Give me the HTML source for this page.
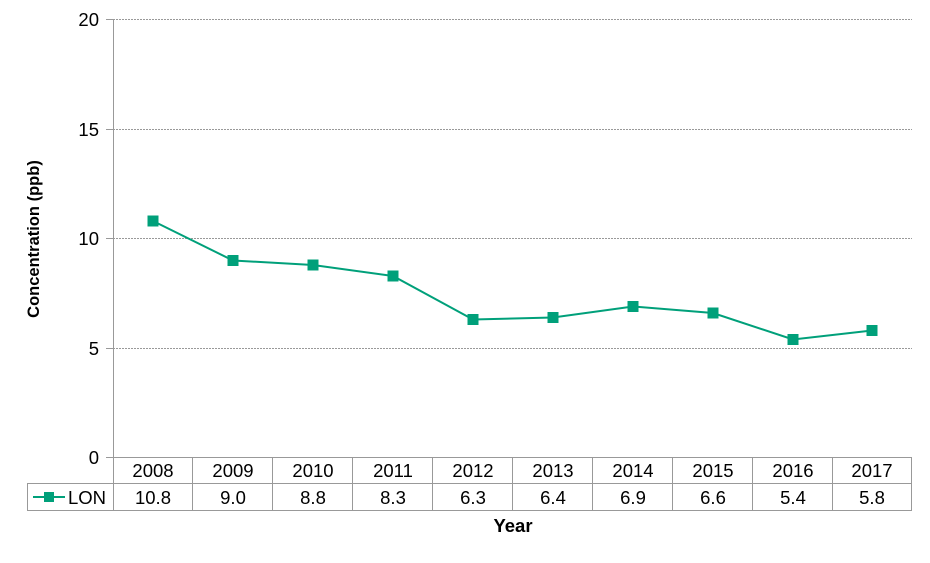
<!DOCTYPE html>
<html><head><style>body{margin:0;background:#fff}</style></head><body>
<svg width="930" height="558" xmlns="http://www.w3.org/2000/svg" font-family="Liberation Sans, Arial, sans-serif">
<g stroke="#999" stroke-width="1" stroke-dasharray="2,1">
<line x1="113" y1="19.5" x2="912" y2="19.5"/>
<line x1="113" y1="129.5" x2="912" y2="129.5"/>
<line x1="113" y1="238.5" x2="912" y2="238.5"/>
<line x1="113" y1="348.5" x2="912" y2="348.5"/>
</g>
<g stroke="#999" stroke-width="1" fill="none">
<line x1="113.5" y1="19" x2="113.5" y2="511"/>
<line x1="106" y1="19.5" x2="113" y2="19.5"/>
<line x1="106" y1="129.5" x2="113" y2="129.5"/>
<line x1="106" y1="238.5" x2="113" y2="238.5"/>
<line x1="106" y1="348.5" x2="113" y2="348.5"/>
<line x1="106" y1="457.5" x2="912" y2="457.5"/>
<line x1="27" y1="483.5" x2="912" y2="483.5"/>
<line x1="27" y1="510.5" x2="912" y2="510.5"/>
<line x1="27.5" y1="483" x2="27.5" y2="511"/>
<line x1="192.5" y1="457" x2="192.5" y2="511"/>
<line x1="272.5" y1="457" x2="272.5" y2="511"/>
<line x1="352.5" y1="457" x2="352.5" y2="511"/>
<line x1="432.5" y1="457" x2="432.5" y2="511"/>
<line x1="512.5" y1="457" x2="512.5" y2="511"/>
<line x1="592.5" y1="457" x2="592.5" y2="511"/>
<line x1="672.5" y1="457" x2="672.5" y2="511"/>
<line x1="752.5" y1="457" x2="752.5" y2="511"/>
<line x1="832.5" y1="457" x2="832.5" y2="511"/>
<line x1="911.5" y1="457" x2="911.5" y2="511"/>
</g>
<g font-size="18.5" fill="#000" text-anchor="end">
<text x="99" y="26">20</text><text x="99" y="136">15</text><text x="99" y="245">10</text><text x="99" y="355">5</text><text x="99" y="464">0</text>
</g>
<g font-size="18.5" fill="#000" text-anchor="middle">
<text x="153" y="477">2008</text><text x="233" y="477">2009</text><text x="313" y="477">2010</text><text x="393" y="477">2011</text><text x="473" y="477">2012</text><text x="553" y="477">2013</text><text x="633" y="477">2014</text><text x="713" y="477">2015</text><text x="793" y="477">2016</text><text x="872" y="477">2017</text>
<text x="153" y="504">10.8</text><text x="233" y="504">9.0</text><text x="313" y="504">8.8</text><text x="393" y="504">8.3</text><text x="473" y="504">6.3</text><text x="553" y="504">6.4</text><text x="633" y="504">6.9</text><text x="713" y="504">6.6</text><text x="793" y="504">5.4</text><text x="872" y="504">5.8</text>
</g>
<line x1="33" y1="497" x2="65" y2="497" stroke="#00a07a" stroke-width="2"/>
<rect x="44" y="492" width="10" height="10" fill="#00a07a"/>
<text x="68" y="504" font-size="18.5">LON</text>
<polyline fill="none" stroke="#00a07a" stroke-width="2" points="153,221 233,260.5 313,265 393,276 473,319.5 553,317.5 633,306.5 713,313 793,339.5 872,330.5"/>
<g fill="#00a07a">
<rect x="147.5" y="215.5" width="11" height="11"/><rect x="227.5" y="255" width="11" height="11"/><rect x="307.5" y="259.5" width="11" height="11"/><rect x="387.5" y="270.5" width="11" height="11"/><rect x="467.5" y="314" width="11" height="11"/><rect x="547.5" y="312" width="11" height="11"/><rect x="627.5" y="301" width="11" height="11"/><rect x="707.5" y="307.5" width="11" height="11"/><rect x="787.5" y="334" width="11" height="11"/><rect x="866.5" y="325" width="11" height="11"/>
</g>
<text x="513" y="532" font-size="18.5" font-weight="bold" text-anchor="middle">Year</text>
<text transform="translate(39,239) rotate(-90)" font-size="16.5" font-weight="bold" text-anchor="middle">Concentration (ppb)</text>
</svg>
</body></html>
